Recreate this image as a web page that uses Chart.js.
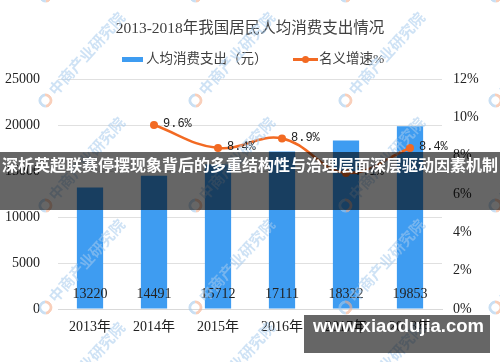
<!DOCTYPE html>
<html><head><meta charset="utf-8">
<script src="https://cdn.jsdelivr.net/npm/chart.js@4.4.1/dist/chart.umd.min.js"></script>
<style>
html,body{margin:0;padding:0;background:#fff;}
#wrap{position:relative;width:500px;height:362px;overflow:hidden;background:#fff;}
#c{position:absolute;left:0;top:0;}
.title{position:absolute;left:0;top:17px;width:500px;text-align:center;font:15.5px "Liberation Serif","Noto Sans CJK SC";color:#404040;white-space:nowrap;line-height:22px;}
.legend{position:absolute;top:50px;left:0;width:500px;height:18px;font:13.5px "Liberation Serif","Noto Sans CJK SC";color:#404040;line-height:18px;}
.lg{position:absolute;top:0;white-space:nowrap;}
.sw-bar{position:absolute;left:122px;top:7px;width:21px;height:5px;background:#3E9CF1;}
.sw-line{position:absolute;left:293px;top:8px;width:25px;height:2.5px;background:#F26A23;}
.sw-dot{position:absolute;left:302px;top:6px;width:7px;height:7px;border-radius:50%;background:#F26A23;}
.wm{position:absolute;transform-origin:0 50%;transform:rotate(-48deg);white-space:nowrap;font:bold 15px "Noto Sans CJK SC";color:rgba(165,202,236,0.55);line-height:16px;pointer-events:none;}
.wm i{display:inline-block;width:8px;height:8px;border-radius:50%;border:3px solid rgba(165,202,236,0.6);border-right-color:rgba(245,175,140,0.6);border-bottom-color:rgba(245,175,140,0.6);margin-right:3px;vertical-align:-2px;}
.band{position:absolute;left:0;top:152px;width:500px;height:58px;background:rgba(0,0,0,0.6);}
.band span{position:absolute;left:0;top:0;width:500px;text-align:center;line-height:58px;font:bold 16px "Noto Sans CJK SC";color:#fff;white-space:nowrap;}
.site{position:absolute;left:304px;top:315px;width:186px;height:38px;background:rgba(0,0,0,0.6);}
.site span{position:absolute;left:9px;top:0;line-height:38px;font:bold 18.5px "Liberation Sans","DejaVu Sans";color:#fff;white-space:nowrap;}
</style></head><body>
<div id="wrap">
<canvas id="c" width="500" height="362"></canvas>
<div class="title">2013-2018年我国居民人均消费支出情况</div>
<div class="legend">
  <div class="sw-bar"></div><div class="lg" style="left:146px">人均消费支出（元）</div>
  <div class="sw-line"></div><div class="sw-dot"></div><div class="lg" style="left:319px">名义增速%</div>
</div>
<div id="wms"></div>
<div class="band"><span>深析英超联赛停摆现象背后的多重结构性与治理层面深层驱动因素机制</span></div>
<div class="site"><span>www.xiaodujia.com</span></div>
</div>
<script>
const categories = ["2013年","2014年","2015年","2016年","2017年","2018年"];
const spending = [13220, 14491, 15712, 17111, 18322, 19853];
const growth = [null, 9.6, 8.4, 8.9, 7.1, 8.4];
const leftTicks = [0, 5000, 10000, 15000, 20000, 25000];
const rightTicks = [0, 2, 4, 6, 8, 10, 12];

// watermarks
(function(){
  const host = document.getElementById('wms');
  const rows = [0, 105, 210, 312, 415];
  const cols = [-103, 47, 197, 347, 497];
  rows.forEach(y => cols.forEach(x => {
    const d = document.createElement('div');
    d.className = 'wm';
    d.style.left = (x - 7) + 'px';
    d.style.top = (y - 8) + 'px';
    d.innerHTML = '<i></i>中商产业研究院';
    host.appendChild(d);
  }));
})();

const BLUE = '#3E9CF1', ORANGE = '#F26A23';
const labelPlugin = {
  id: 'labels',
  afterDatasetsDraw(chart) {
    const ctx = chart.ctx;
    ctx.save();
    const barMeta = chart.getDatasetMeta(0);
    const y0 = chart.scales.y.getPixelForValue(0);
    ctx.fillStyle = '#222';
    ctx.font = '14px "Liberation Serif"';
    ctx.textAlign = 'center';
    ctx.textBaseline = 'middle';
    barMeta.data.forEach((el, i) => {
      ctx.fillText(String(spending[i]), el.x, y0 - 15);
    });
    const lineMeta = chart.getDatasetMeta(1);
    ctx.font = '12px "Liberation Mono"';
    ctx.textAlign = 'left';
    lineMeta.data.forEach((el, i) => {
      if (growth[i] == null) return;
      ctx.fillText(growth[i].toFixed(1) + '%', el.x + 9, el.y - 1);
    });
    ctx.restore();
  }
};

new Chart(document.getElementById('c'), {
  data: {
    labels: categories,
    datasets: [
      { type: 'bar', label: '人均消费支出（元）', data: spending, backgroundColor: BLUE, yAxisID: 'y',
        barPercentage: 0.41, categoryPercentage: 1, order: 1 },
      { type: 'line', label: '名义增速%', data: growth, yAxisID: 'y1', borderColor: ORANGE, backgroundColor: ORANGE,
        borderWidth: 2.5, pointRadius: 4, pointHoverRadius: 4, pointBackgroundColor: ORANGE, pointBorderWidth: 0,
        tension: 0.4, order: 0, spanGaps: false }
    ]
  },
  options: {
    responsive: false,
    animation: false,
    devicePixelRatio: 1,
    layout: { padding: { top: 79, left: 0, right: 0, bottom: 0 } },
    plugins: { legend: { display: false }, title: { display: false }, tooltip: { enabled: false } },
    scales: {
      x: {
        grid: { display: false, drawTicks: false },
        border: { display: true, color: '#d9d9d9', width: 1 },
        ticks: { color: '#222', font: { family: '"Liberation Serif","Noto Sans CJK SC"', size: 14 }, padding: 10, maxRotation: 0 },
        afterFit(s) { s.height = 53; }
      },
      y: {
        position: 'left', min: 0, max: 25000,
        afterBuildTicks(s) { s.ticks = leftTicks.map(v => ({ value: v })); },
        grid: { color: '#e0e0e0', drawTicks: false, lineWidth: 1 },
        border: { display: false },
        ticks: { color: '#222', font: { family: '"Liberation Serif"', size: 14 }, padding: 18, callback: v => String(v) },
        afterFit(s) { s.width = 58; }
      },
      y1: {
        position: 'right', min: 0, max: 12,
        afterBuildTicks(s) { s.ticks = rightTicks.map(v => ({ value: v })); },
        grid: { display: false, drawTicks: false },
        border: { display: false },
        ticks: { color: '#222', font: { family: '"Liberation Serif"', size: 14 }, padding: 11, callback: v => v + '%' },
        afterFit(s) { s.width = 58; }
      }
    }
  },
  plugins: [labelPlugin]
});
</script>
</body></html>
